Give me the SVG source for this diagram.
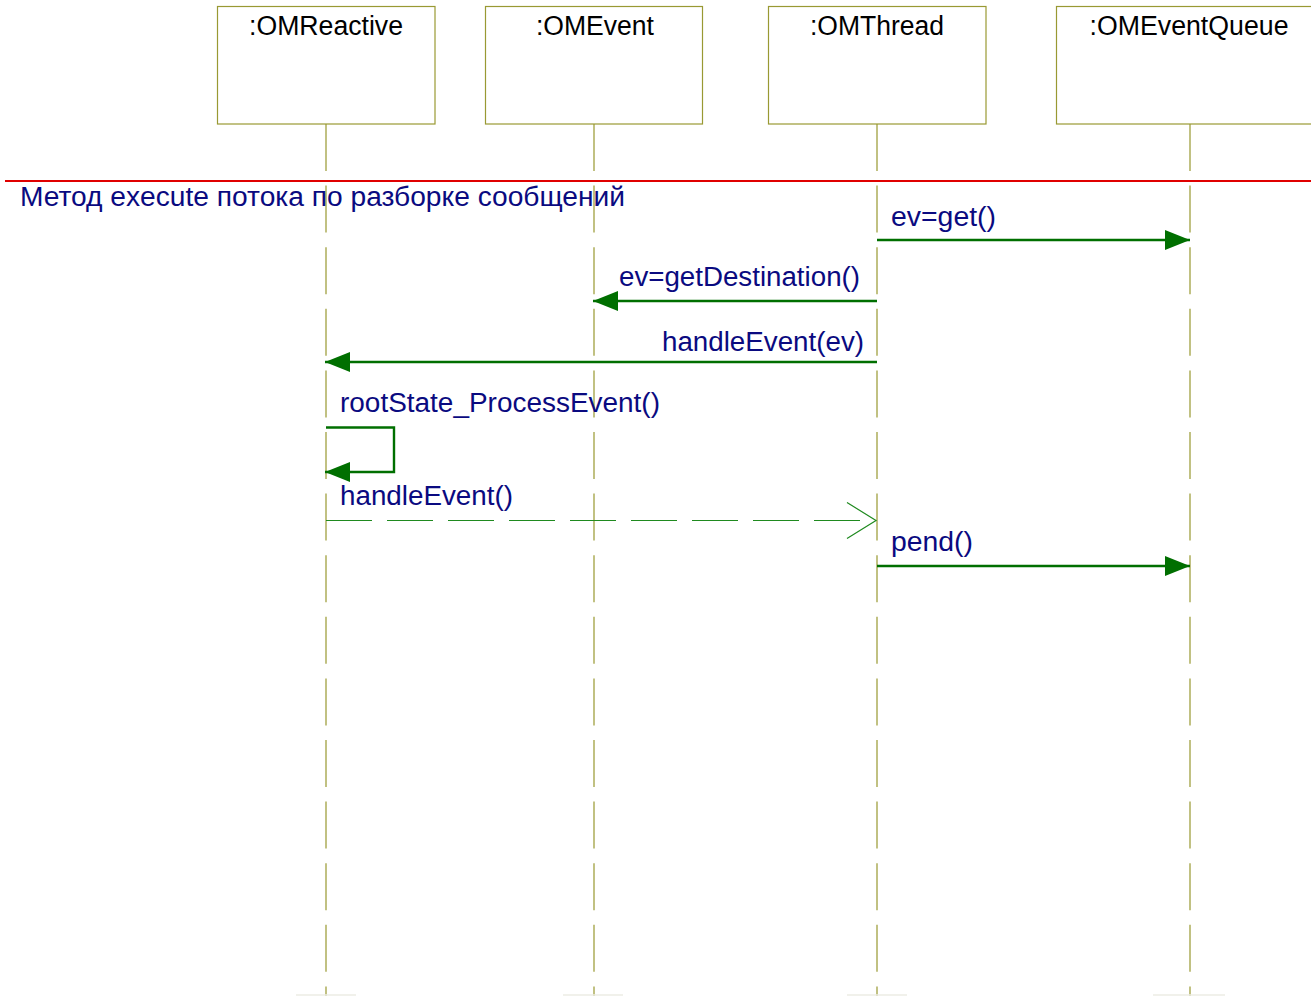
<svg xmlns="http://www.w3.org/2000/svg" width="1311" height="996" viewBox="0 0 1311 996">
  <style>
    .box { fill: #ffffff; stroke: #999933; stroke-width: 1.2; }
    .obj { font-family: "Liberation Sans", Arial, sans-serif; font-size: 27px; fill: #000000; text-anchor: middle; }
    .life { stroke: #a0a040; stroke-width: 1.3; stroke-dasharray: 47 14.6; fill: none; }
    .msg { font-family: "Liberation Sans", Arial, sans-serif; font-size: 27px; fill: #0a0a80; }
    .call { stroke: #006f00; stroke-width: 2.4; fill: none; }
    .reply { stroke: #1f8a1f; stroke-width: 1.2; fill: none; stroke-dasharray: 46 15; }
    .foot { stroke: #ecece4; stroke-width: 1.5; }
  </style>
  <defs>
    <marker id="solid" markerUnits="userSpaceOnUse" markerWidth="26" markerHeight="21" refX="25" refY="10" orient="auto">
      <path d="M0,0 L25,10 L0,20 z" fill="#006f00"/>
    </marker>
    <marker id="open" markerUnits="userSpaceOnUse" markerWidth="32" markerHeight="40" refX="30" refY="19" orient="auto">
      <path d="M1,1 L30,19 L1,37" fill="none" stroke="#1f8a1f" stroke-width="1.2"/>
    </marker>
  </defs>
  <rect width="1311" height="996" fill="#ffffff"/>

  <!-- lifelines -->
  <g id="lifelines">
    <line class="life" x1="326" y1="124" x2="326" y2="996"/>
    <line class="life" x1="594" y1="124" x2="594" y2="996"/>
    <line class="life" x1="877" y1="124" x2="877" y2="996"/>
    <line class="life" x1="1190" y1="124" x2="1190" y2="996"/>
  </g>

  <!-- object heads -->
  <g id="OMReactive">
    <rect class="box" x="217.5" y="6.5" width="217.5" height="117.5"/>
    <text class="obj" x="326" y="35" textLength="154" lengthAdjust="spacingAndGlyphs">:OMReactive</text>
  </g>
  <g id="OMEvent">
    <rect class="box" x="485.5" y="6.5" width="217" height="117.5"/>
    <text class="obj" x="595" y="35" textLength="118" lengthAdjust="spacingAndGlyphs">:OMEvent</text>
  </g>
  <g id="OMThread">
    <rect class="box" x="768.5" y="6.5" width="217.5" height="117.5"/>
    <text class="obj" x="877" y="35" textLength="134" lengthAdjust="spacingAndGlyphs">:OMThread</text>
  </g>
  <g id="OMEventQueue">
    <rect class="box" x="1056.5" y="6.5" width="270" height="117.5"/>
    <text class="obj" x="1189" y="35" textLength="199" lengthAdjust="spacingAndGlyphs">:OMEventQueue</text>
  </g>

  <!-- interaction frame title -->
  <g id="frame">
    <line x1="5" y1="181" x2="1311" y2="181" stroke="#e00000" stroke-width="2"/>
    <text class="msg" x="20" y="206" textLength="605" lengthAdjust="spacingAndGlyphs">Метод execute потока по разборке сообщений</text>
  </g>

  <!-- messages -->
  <g id="connectors">
    <line class="call" x1="877" y1="240" x2="1190" y2="240" marker-end="url(#solid)"/>
    <line class="call" x1="877" y1="301" x2="593" y2="301" marker-end="url(#solid)"/>
    <line class="call" x1="877" y1="362" x2="325" y2="362" marker-end="url(#solid)"/>
    <polyline class="call" points="326,427.5 394,427.5 394,472 325,472" marker-end="url(#solid)"/>
    <line class="reply" x1="326" y1="520.5" x2="876" y2="520.5" marker-end="url(#open)"/>
    <line class="call" x1="877" y1="566" x2="1190" y2="566" marker-end="url(#solid)"/>
  </g>

  <g id="labels">
    <text class="msg" x="891" y="226" textLength="105" lengthAdjust="spacingAndGlyphs">ev=get()</text>
    <text class="msg" x="619" y="286" textLength="241" lengthAdjust="spacingAndGlyphs">ev=getDestination()</text>
    <text class="msg" x="662" y="351" textLength="202" lengthAdjust="spacingAndGlyphs">handleEvent(ev)</text>
    <text class="msg" x="340" y="412" textLength="320" lengthAdjust="spacingAndGlyphs">rootState_ProcessEvent()</text>
    <text class="msg" x="340" y="505" textLength="173" lengthAdjust="spacingAndGlyphs">handleEvent()</text>
    <text class="msg" x="891" y="551" textLength="82" lengthAdjust="spacingAndGlyphs">pend()</text>
  </g>

  <!-- lifeline feet -->
  <g id="feet">
    <line class="foot" x1="296" y1="995" x2="356" y2="995"/>
    <line class="foot" x1="563" y1="995" x2="623" y2="995"/>
    <line class="foot" x1="847" y1="995" x2="907" y2="995"/>
    <line class="foot" x1="1153" y1="995" x2="1225" y2="995"/>
  </g>
</svg>
